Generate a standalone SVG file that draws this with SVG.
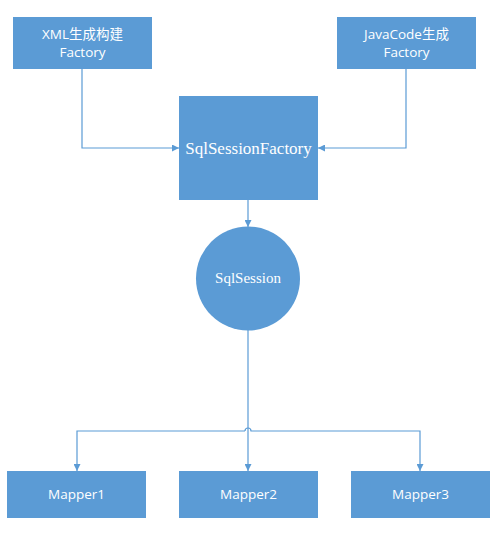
<svg xmlns="http://www.w3.org/2000/svg" width="500" height="541" viewBox="0 0 500 541">
<style>
.n{fill:#5B9BD5;}
.t{fill:#fff;font-family:"Open Sans","Noto Sans CJK SC",sans-serif;font-size:13.5px;text-anchor:middle;}
.s{fill:#fff;font-family:"Liberation Serif",serif;text-anchor:middle;}
.c{fill:none;stroke:#5B9BD5;stroke-width:1.2;}
</style>
<defs>
<marker id="a" viewBox="0 0 10 10" refX="10" refY="5" markerWidth="7" markerHeight="7" orient="auto" markerUnits="userSpaceOnUse">
<path d="M0,0 L10,5 L0,10 z" fill="#5B9BD5"/>
</marker>
</defs>
<rect width="500" height="541" fill="#fff"/>
<g id="connectors">
<path class="c" d="M82,69 V148 H179" marker-end="url(#a)"/>
<path class="c" d="M406,69 V148 H318" marker-end="url(#a)"/>
<path class="c" d="M248,200 V227" marker-end="url(#a)"/>
<path class="c" d="M248,330 V471" marker-end="url(#a)"/>
<path class="c" d="M245,431 H77 V471" marker-end="url(#a)"/>
<path class="c" d="M245,431 A3,3 0 0 1 251,431 H420 V471" marker-end="url(#a)"/>
</g>
<g id="xml">
<rect class="n" x="13" y="17" width="139" height="52"/>
<text class="t" x="82.5" y="39" font-size="14">XML生成构建</text>
<text class="t" x="82.5" y="57">Factory</text>
</g>
<g id="javacode">
<rect class="n" x="337" y="17" width="139" height="52"/>
<text class="t" x="406.5" y="39" font-size="14">JavaCode生成</text>
<text class="t" x="406.5" y="57">Factory</text>
</g>
<g id="factory">
<rect class="n" x="179" y="96" width="139" height="104"/>
<text class="s" x="248.5" y="154" font-size="17">SqlSessionFactory</text>
</g>
<g id="session">
<circle class="n" cx="248" cy="278.5" r="52"/>
<text class="s" x="248" y="283" font-size="15">SqlSession</text>
</g>
<g id="mapper1">
<rect class="n" x="7" y="471" width="139" height="47"/>
<text class="t" x="76.5" y="499">Mapper1</text>
</g>
<g id="mapper2">
<rect class="n" x="179" y="471" width="139" height="47"/>
<text class="t" x="248.5" y="499">Mapper2</text>
</g>
<g id="mapper3">
<rect class="n" x="351" y="471" width="139" height="47"/>
<text class="t" x="420.5" y="499">Mapper3</text>
</g>
</svg>
